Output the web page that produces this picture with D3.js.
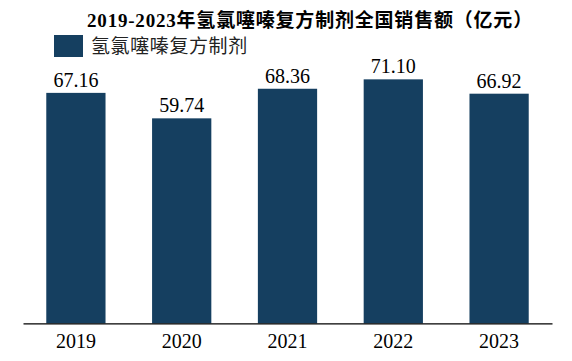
<!DOCTYPE html>
<html><head><meta charset="utf-8">
<script src="https://cdn.jsdelivr.net/npm/d3@7"></script>
<style>body{margin:0;background:#fff}svg{display:block}</style>
</head><body>
<svg id="c" width="572" height="361"></svg>
<script>
const categories = ["2019","2020","2021","2022","2023"];
const values = [67.16, 59.74, 68.36, 71.10, 66.92];
const seriesName = "氢氯噻嗪复方制剂";
const title = "2019-2023年氢氯噻嗪复方制剂全国销售额（亿元）";

const svg = d3.select("#c");
const color = "#153f60";
const serif = "'Liberation Serif','Times New Roman','Noto Sans CJK SC',serif";

const x = d3.scaleBand().domain(categories).range([23, 552]).paddingInner(0.44).paddingOuter(0.22);
const y = d3.scaleLinear().domain([0, 80]).range([323.4, 48.8]);

svg.append("text").attr("x", 310).attr("y", 27).attr("text-anchor", "middle")
  .attr("font-family", serif).attr("font-weight", "bold").attr("font-size", 19)
  .attr("letter-spacing", 0.8).attr("fill", "#000").text(title);

svg.append("rect").attr("x", 54).attr("y", 35).attr("width", 29).attr("height", 22).attr("fill", color);
svg.append("text").attr("x", 91).attr("y", 53).attr("font-family", serif)
  .attr("font-size", 19).attr("fill", "#222").attr("letter-spacing", 0.6).text(seriesName);

svg.selectAll("rect.bar").data(values).join("rect").attr("class", "bar")
  .attr("x", (d, i) => x(categories[i])).attr("width", x.bandwidth())
  .attr("y", d => y(d)).attr("height", d => y(0) - y(d)).attr("fill", color);

svg.selectAll("text.val").data(values).join("text").attr("class", "val")
  .attr("x", (d, i) => x(categories[i]) + x.bandwidth() / 2).attr("y", d => y(d) - 6)
  .attr("text-anchor", "middle").attr("font-family", serif).attr("font-size", 20)
  .attr("fill", "#000").text(d => d.toFixed(2));

const ax = svg.append("g").attr("transform", `translate(0,${y(0)})`)
  .call(d3.axisBottom(x).tickSize(0).tickPadding(10));
ax.select(".domain").attr("stroke", "#000").attr("stroke-width", 1.2);
ax.selectAll("text").attr("font-family", serif).attr("font-size", 20).attr("fill", "#000");
</script>
</body></html>
